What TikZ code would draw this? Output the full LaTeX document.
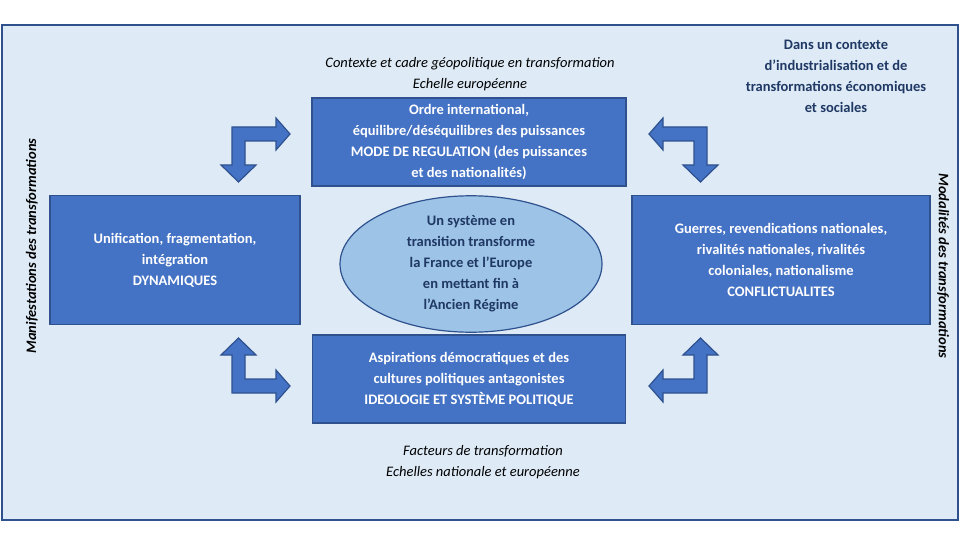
\documentclass[tikz,border=0pt]{standalone}
\usepackage{fontspec}
\setmainfont{Carlito}
\usetikzlibrary{shapes.geometric}
\begin{document}
\begin{tikzpicture}[x=1pt,y=-1pt,
  box/.style={draw=bord,line width=1.5pt,fill=boxblue,text=white,font=\fontsize{14.5}{21}\selectfont\bfseries,align=center,inner sep=0},
  arr/.style={draw=bord,line width=1.2pt,fill=boxblue},
  lab/.style={font=\fontsize{14.5}{21}\selectfont\itshape,align=center}]
\definecolor{bg}{HTML}{DEEBF7}
\definecolor{bord}{HTML}{2F528F}
\definecolor{boxblue}{HTML}{4472C4}
\definecolor{ell}{HTML}{9DC3E6}
\definecolor{navy}{HTML}{1F3864}
\useasboundingbox (0,0) rectangle (960,540);
\fill[white] (0,0) rectangle (960,540);
\draw[fill=bg,draw=bord,line width=1.5pt] (2,25) rectangle (958,520);
\node[box,minimum width=314,minimum height=88] (top) at (469,142) {Ordre international,\\équilibre/déséquilibres des puissances\\MODE DE REGULATION (des puissances\\et des nationalités)};
\node[box,minimum width=250,minimum height=129] (left) at (175,260) {Unification, fragmentation,\\intégration\\DYNAMIQUES};
\node[box,minimum width=298,minimum height=129] (right) at (781,260) {Guerres, revendications nationales,\\rivalités nationales, rivalités\\coloniales, nationalisme\\CONFLICTUALITES};
\node[box,minimum width=313,minimum height=88] (bot) at (469,379) {Aspirations démocratiques et des\\cultures politiques antagonistes\\IDEOLOGIE ET SYSTÈME POLITIQUE};
\node[draw=bord,line width=1.2pt,fill=ell,ellipse,minimum width=262,minimum height=112,inner sep=0,text=navy,font=\fontsize{14.5}{21}\selectfont\bfseries,align=center] (el) at (471,264) {Un système en\\transition transforme\\la France et l’Europe\\en mettant fin à\\l’Ancien Régime};
\node[lab] (ctx) at (470,74) {Contexte et cadre géopolitique en transformation\\Echelle européenne};
\node[lab] (fac) at (483,462) {Facteurs de transformation\\Echelles nationale et européenne};
\node[font=\fontsize{14.5}{21}\selectfont\bfseries,text=navy,align=center] (dans) at (836,76) {Dans un contexte\\d’industrialisation et de\\transformations économiques\\et sociales};
\node[font=\fontsize{14.5}{18}\selectfont\bfseries\itshape,rotate=90] (man) at (32,246) {Manifestations des transformations};
\node[font=\fontsize{14.5}{18}\selectfont\bfseries\itshape,rotate=-90] (mod) at (943,266) {Modalités des transformations};
\def\Larrow{(0,0)--(44,0)--(44,-9)--(58,7)--(44,23)--(44,14)--(13,14)--(13,38)--(24,38)--(6.5,55)--(-11,38)--(0,38)--cycle}
\begin{scope}[shift={(232,127)}]\draw[arr] \Larrow;\end{scope}
\begin{scope}[shift={(707,127)},xscale=-1]\draw[arr] \Larrow;\end{scope}
\begin{scope}[shift={(232,393)},yscale=-1]\draw[arr] \Larrow;\end{scope}
\begin{scope}[shift={(707,393)},xscale=-1,yscale=-1]\draw[arr] \Larrow;\end{scope}
\end{tikzpicture}
\end{document}
